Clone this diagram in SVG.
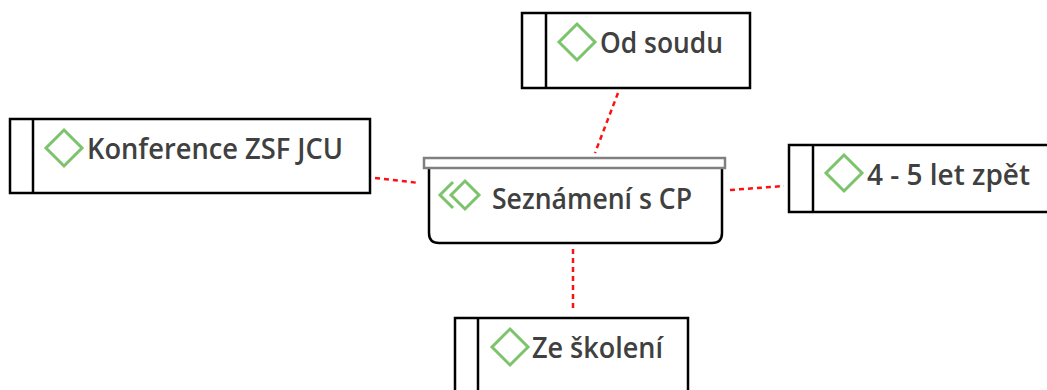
<svg xmlns="http://www.w3.org/2000/svg" width="1047" height="390" viewBox="0 0 1047 390">
<style>
.box{fill:#fff;stroke:#000;stroke-width:2.5}
.div{stroke:#000;stroke-width:2.5}
.dia{fill:none;stroke:#7cc46c;stroke-width:3}
.lbl{font-family:"Open Sans","Noto Sans",sans-serif;font-weight:600;font-size:28px;fill:#404040}
.con{stroke:#ff1010;stroke-width:2.5;stroke-dasharray:5 4;fill:none}
</style>
<rect width="1047" height="390" fill="#fff"/>
<g id="connectors">
<line class="con" x1="618" y1="93" x2="595" y2="153"/>
<line class="con" x1="375" y1="178" x2="419" y2="183"/>
<line class="con" x1="730" y1="190" x2="784" y2="186"/>
<line class="con" x1="573" y1="249" x2="573" y2="312"/>
</g>
<g id="n-center">
<path class="box" d="M429 168 V233 Q429 243 439 243 H712 Q722 243 722 233 V168"/>
<rect x="424" y="158" width="301" height="10" fill="#fff" stroke="#808080" stroke-width="2.5"/>
<path class="dia" d="M453 182 L440 195 L453 208"/>
<path class="dia" d="M465 181 L479 195 L465 209 L451 195 Z"/>
<text class="lbl" x="492" y="209" textLength="200" lengthAdjust="spacingAndGlyphs">Seznámení s CP</text>
</g>
<g id="n-top">
<rect class="box" x="522" y="13" width="228" height="75"/>
<line class="div" x1="546" y1="13" x2="546" y2="88"/>
<path class="dia" d="M577 24 L595 42 L577 60 L559 42 Z"/>
<text class="lbl" x="600" y="53" textLength="123" lengthAdjust="spacingAndGlyphs">Od soudu</text>
</g>
<g id="n-left">
<rect class="box" x="10" y="119" width="360" height="74"/>
<line class="div" x1="33" y1="119" x2="33" y2="193"/>
<path class="dia" d="M64 130 L82 148 L64 166 L46 148 Z"/>
<text class="lbl" x="87" y="159" textLength="256" lengthAdjust="spacingAndGlyphs">Konference ZSF JCU</text>
</g>
<g id="n-right">
<path class="box" d="M1050 145 H789 V212 H1050"/>
<line class="div" x1="813" y1="145" x2="813" y2="212"/>
<path class="dia" d="M844 155 L862 173 L844 191 L826 173 Z"/>
<text class="lbl" x="867" y="185" textLength="163" lengthAdjust="spacingAndGlyphs">4 - 5 let zpět</text>
</g>
<g id="n-bottom">
<path class="box" d="M455 395 V318 H688 V395"/>
<line class="div" x1="478" y1="318" x2="478" y2="395"/>
<path class="dia" d="M510 329 L528 347 L510 365 L492 347 Z"/>
<text class="lbl" x="532" y="358" textLength="131" lengthAdjust="spacingAndGlyphs">Ze školení</text>
</g>
</svg>
